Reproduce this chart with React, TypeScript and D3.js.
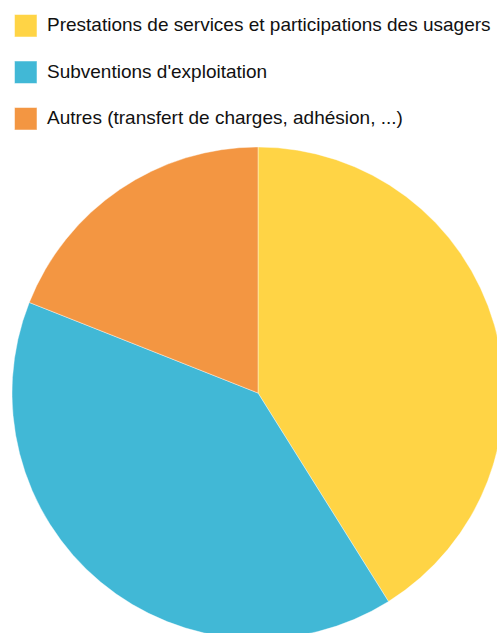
import React from "react";
import * as d3 from "d3";

const categories = [
  "Prestations de services et participations des usagers",
  "Subventions d'exploitation",
  "Autres (transfert de charges, adhésion, ...)",
];
const values = [41.1, 39.9, 19.0];
const colors = ["#FFD445", "#41B8D6", "#F39642"];

export default function App() {
  const W = 497, H = 633;
  const cx = 258, cy = 393, r = 246;
  const pie = d3.pie<number>().sort(null).value((d) => d);
  const arc = d3.arc<d3.PieArcDatum<number>>().innerRadius(0).outerRadius(r);
  const arcs = pie(values);
  return (
    <svg width={W} height={H} style={{ position: "absolute", left: 0, top: 0 }}>
      <g transform={`translate(${cx},${cy})`}>
        {arcs.map((a, i) => (
          <path key={i} d={arc(a) || ""} fill={colors[i]} stroke="#fff" strokeOpacity={0.4} strokeWidth={1} />
        ))}
      </g>
      {categories.map((c, i) => (
        <g key={i} transform={`translate(14,${14 + i * 46.5})`}>
          <rect x={0.5} y={0.5} width={22.5} height={22.5} fill={colors[i]} stroke="#fff" strokeOpacity={0.5} />
          <text x={33} y={17} fontFamily="Liberation Sans, Arial, sans-serif" fontSize={19} fill="#111">
            {c}
          </text>
        </g>
      ))}
    </svg>
  );
}
